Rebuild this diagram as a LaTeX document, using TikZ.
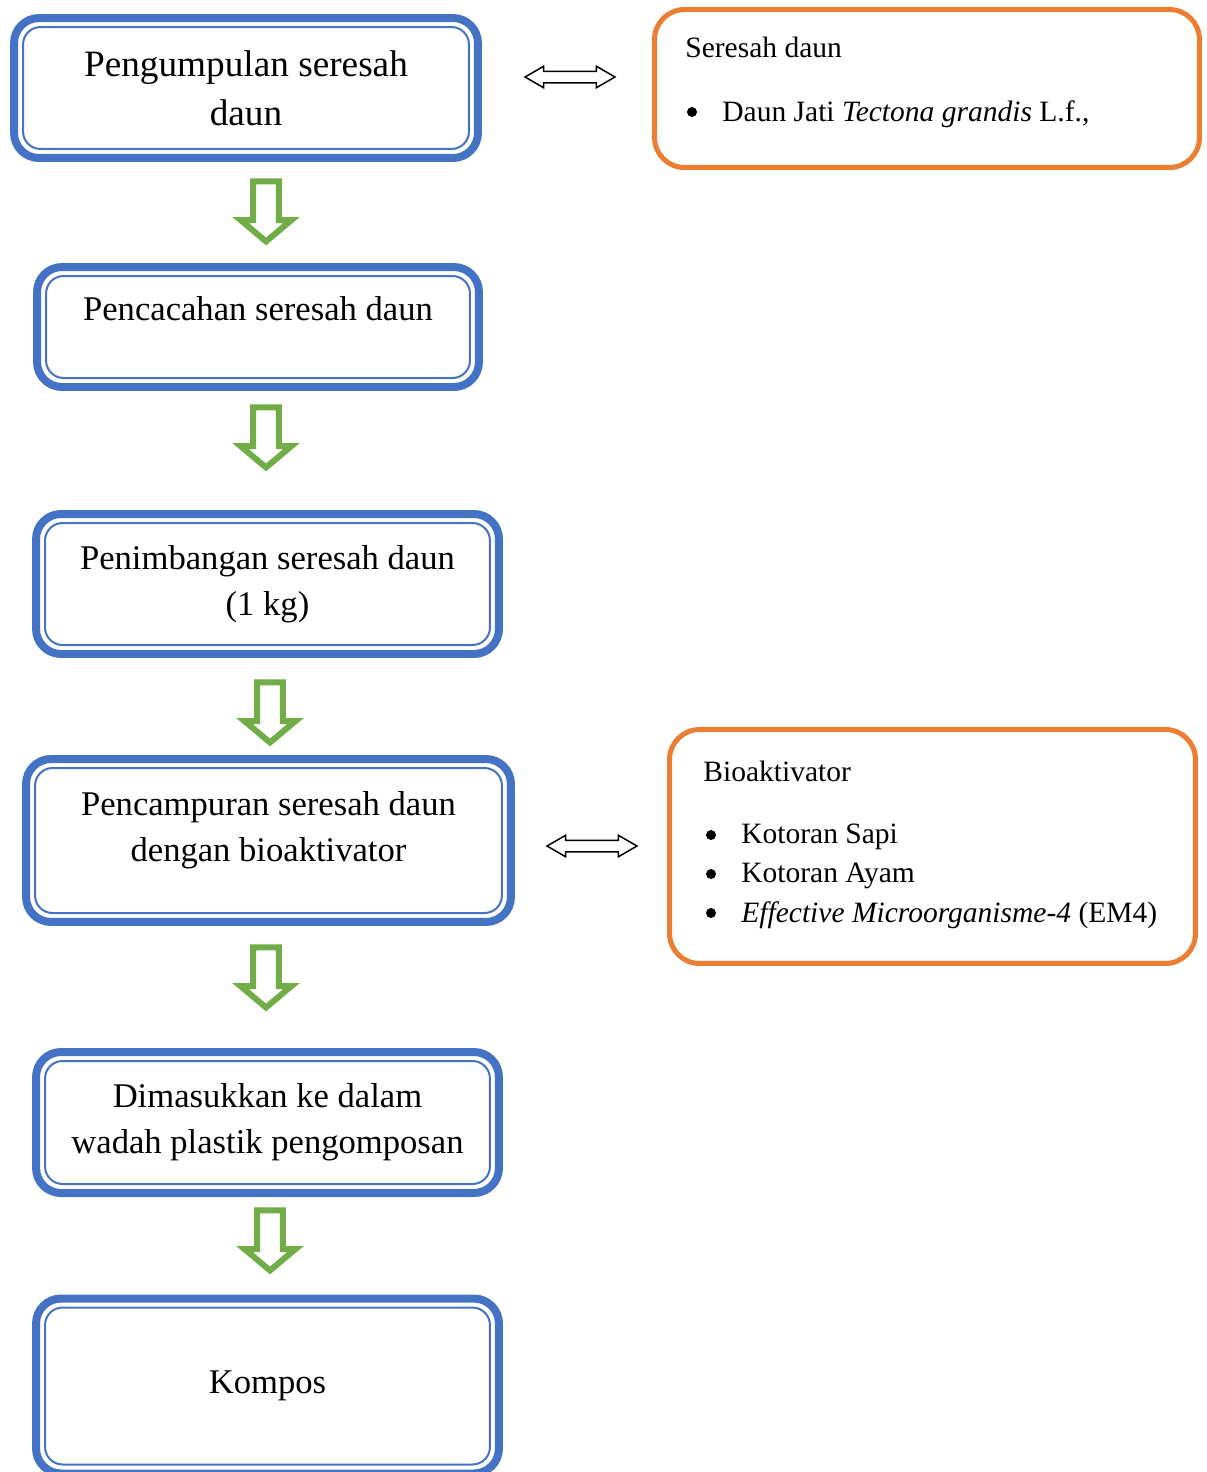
\documentclass[tikz,border=0pt]{standalone}
\usepackage{fontspec}
\setmainfont{Liberation Serif}
\usetikzlibrary{positioning,calc,shapes.arrows}
\definecolor{biru}{HTML}{4472C4}
\definecolor{oranye}{HTML}{ED7D31}
\definecolor{hijau}{HTML}{70AD47}

\begin{document}
\begin{tikzpicture}[x=0.02cm,y=-0.02cm,
    tahap/.style={rectangle,draw=biru,line width=0.16cm,rounded corners=0.5cm,outer sep=0pt,align=center,font=\fontsize{19.7}{26}\selectfont},
    garis/.style={draw=biru,line width=0.04cm,rounded corners=0.35cm},
    kotak/.style={rectangle,draw=oranye,line width=0.1cm,rounded corners=0.6cm,outer sep=0pt},
    isi/.style={anchor=west,inner sep=0pt,font=\fontsize{16.8}{22}\selectfont},
    titik/.style={circle,fill=black,inner sep=0pt,minimum size=0.2cm},
    panah/.style={single arrow,draw=hijau,line width=0.12cm,shape border rotate=270,minimum height=1.2cm,inner sep=0.2cm,single arrow head extend=0.25cm,single arrow tip angle=100},
    panahdua/.style={double arrow,draw=black,line width=0.03cm,minimum height=1.8cm,inner sep=0.1cm,double arrow head extend=0.1cm,double arrow tip angle=60}]

\useasboundingbox (0,0) rectangle (1207,1472);

% Tahapan pengomposan
\node[tahap,minimum width=9.28cm,minimum height=2.8cm,font=\fontsize{21.2}{28}\selectfont] (b1) at (246,88) {Pengumpulan seresah\\daun};
\node[tahap,minimum width=8.84cm,minimum height=2.4cm,text depth=21pt] (b2) at (258,327) {Pencacahan seresah daun};
\node[tahap,minimum width=9.26cm,minimum height=2.8cm] (b3) at (267.5,584) {Penimbangan seresah daun\\(1 kg)};
\node[tahap,minimum width=9.7cm,minimum height=3.26cm,text depth=16pt] (b4) at (268.5,840.5) {Pencampuran seresah daun\\dengan bioaktivator};
\node[tahap,minimum width=9.26cm,minimum height=2.82cm] (b5) at (267.5,1122.5) {Dimasukkan ke dalam\\wadah plastik pengomposan};
\node[tahap,minimum width=9.26cm,minimum height=3.5cm] (b6) at (267.5,1386) {Kompos};

% Garis dalam
\foreach \i in {1,...,6} {
    \draw[garis] ([shift={(0.18cm,0.18cm)}]b\i.south west) rectangle ([shift={(-0.18cm,-0.18cm)}]b\i.north east);
}

% Panah hijau
\node[panah] (p1) at (266,206) {};
\node[panah] (p2) at (266,432) {};
\node[panah] (p3) at (270,707) {};
\node[panah] (p4) at (266,972) {};
\node[panah] (p5) at (270,1235) {};

% Seresah daun
\node[kotak,minimum width=10.9cm,minimum height=3.16cm] (k1) at (927,88.5) {};
\node[isi] (k1judul) at (685,47) {Seresah daun};
\node[titik] (k1d1) at (692,112) {};
\node[isi] (k1t1) at (722,114) {Daun Jati \textit{Tectona grandis} L.f.,};
\node[panahdua] (d1) at (570,77) {};

% Bioaktivator
\node[kotak,minimum width=10.52cm,minimum height=4.68cm] (k2) at (932.5,846.5) {};
\node[isi] (k2judul) at (703,771) {Bioaktivator};
\node[titik] (k2d1) at (711,835) {};
\node[isi] (k2t1) at (741,837) {Kotoran Sapi};
\node[titik] (k2d2) at (711,874) {};
\node[isi] (k2t2) at (741,876) {Kotoran Ayam};
\node[titik] (k2d3) at (711,913) {};
\node[isi] (k2t3) at (741,915) {\textit{Effective Microorganisme-4} (EM4)};
\node[panahdua] (d2) at (592,846) {};

\end{tikzpicture}
\end{document}
